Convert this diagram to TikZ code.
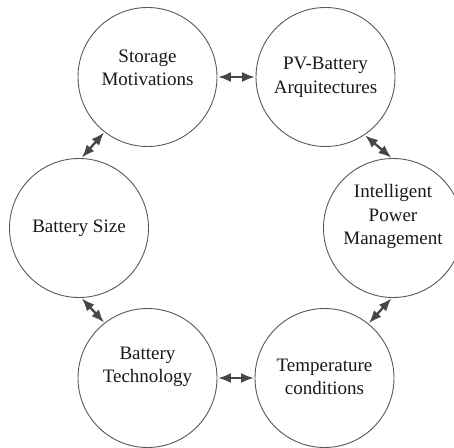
\documentclass[tikz,border=0pt]{standalone}
\usepackage{fontspec}
\setmainfont{Liberation Serif}
\usetikzlibrary{arrows.meta}
\definecolor{edge}{HTML}{474747}
\definecolor{ring}{HTML}{585858}
\tikzset{
  bub/.style={draw=ring, line width=0.9pt, circle, minimum size=139pt, inner sep=0pt},
  lbl/.style={align=center, font=\fontsize{19}{23.5}\selectfont, text=black!90},
  link/.style={draw=edge, line width=2.3pt, {Latex[length=13pt,width=10pt]}-{Latex[length=13pt,width=10pt]}, shorten <=0.5pt, shorten >=0.5pt}
}
\begin{document}
\begin{tikzpicture}[x=1pt,y=-1pt]
\useasboundingbox (0,0) rectangle (454,447);
\node[bub] (sm) at (147.5,77) {};
\node[bub] (pv) at (325.5,77) {};
\node[bub] (ip) at (393,228) {};
\node[bub] (bs) at (79,228) {};
\node[bub] (bt) at (147.5,378) {};
\node[bub] (tc) at (324.5,378) {};
\node[lbl] (tsm) at (147.5,68) {Storage\\Motivations};
\node[lbl] (tpv) at (325.5,77.5) {PV-Battery\\Arquitectures};
\node[lbl] (tip) at (393,216.5) {Intelligent\\Power\\Management};
\node[lbl] (tbs) at (79,228) {Battery Size};
\node[lbl] (tbt) at (147.5,367) {Battery\\Technology};
\node[lbl] (ttc) at (324.5,377) {Temperature\\conditions};
\draw[link] (sm.east) -- (pv.west);
\draw[link] (bt.east) -- (tc.west);
\draw[link] (sm.232) -- (bs.88);
\draw[link] (bs.272) -- (bt.128);
\draw[link] (pv.304) -- (ip.91);
\draw[link] (ip.269) -- (tc.51);
\end{tikzpicture}
\end{document}
